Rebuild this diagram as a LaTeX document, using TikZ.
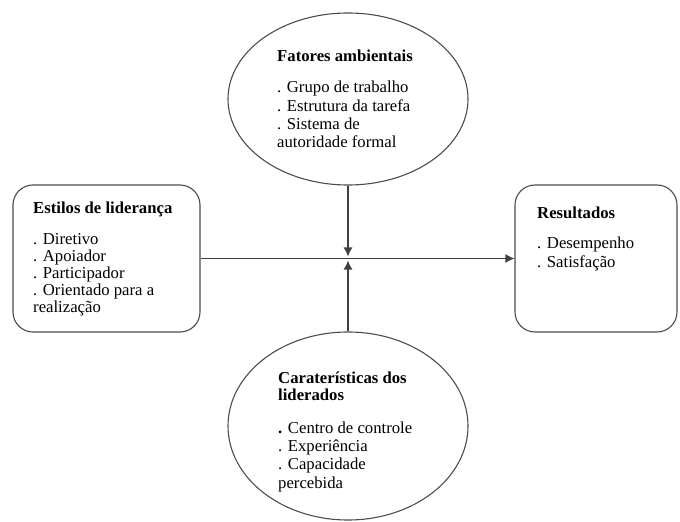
\documentclass[tikz,border=0pt]{standalone}
\usepackage{fontspec}
\setmainfont{Liberation Serif}
\usetikzlibrary{arrows.meta,shapes.geometric,positioning}
\tikzstyle{oval} = [ellipse, draw=black!70, line width=1.1bp, minimum width=240bp, inner sep=0pt]
\tikzstyle{panel} = [rectangle, rounded corners=20bp, draw=black!70, line width=1.1bp, inner sep=0pt]
\tikzstyle{txt} = [anchor=north west, inner sep=0pt, align=left, font=\fontsize{16.7bp}{18.3bp}\selectfont]
\tikzstyle{link} = [->, >={Latex[length=9bp,width=9bp]}, draw=black!75, line width=1.3bp]

\begin{document}
\begin{tikzpicture}[x=1bp,y=-1bp]
            \useasboundingbox (0,0) rectangle (680,522);

            % shapes
            \node[oval, minimum height=172bp] (env) at (348,99) {};
            \node[oval, minimum height=188bp] (follower) at (348,426) {};
            \node[panel, minimum width=187bp, minimum height=147bp] (style) at (106.5,258.5) {};
            \node[panel, minimum width=162bp, minimum height=147bp] (result) at (596,258.5) {};
            \coordinate (hub) at (348,258.5);

            % texts
            \node[txt] (envtxt) at (277,49.4) {\textbf{Fatores ambientais}\\[13.5bp]
                . Grupo de trabalho\\. Estrutura da tarefa\\. Sistema de\\autoridade formal};
            \node[txt, font=\fontsize{16.7bp}{16.8bp}\selectfont] (styletxt) at (33,201.4) {\textbf{Estilos de liderança}\\[15bp]
                . Diretivo\\. Apoiador\\. Participador\\. Orientado para a\\realização};
            \node[txt, font=\fontsize{16.7bp}{19bp}\selectfont] (resulttxt) at (537,206.5) {\textbf{Resultados}\\[11bp]
                . Desempenho\\. Satisfação};
            \node[txt] (followertxt) at (278,371.4) {\textbf{Caraterísticas dos}\\[-1.3bp]\textbf{liderados}\\[14.7bp]
                \textbf{.} Centro de controle\\. Experiência\\. Capacidade\\percebida};

            % connectors
            \draw[link] (style) -- (result);
            \draw[link, shorten >=2bp] (env) -- (hub);
            \draw[link, shorten >=2bp] (follower) -- (hub);
        \end{tikzpicture}
\end{document}
